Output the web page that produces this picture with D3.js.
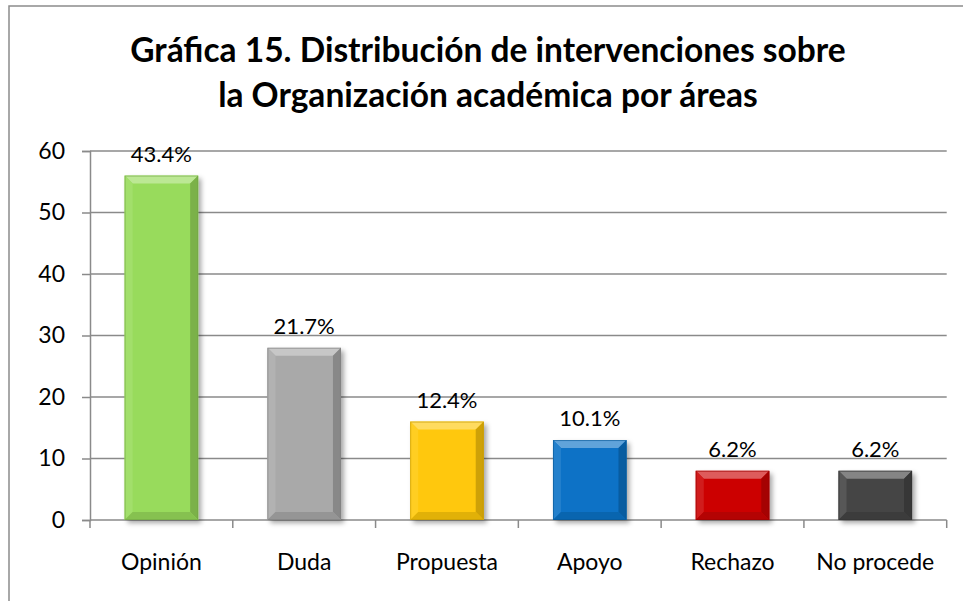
<!DOCTYPE html>
<html>
<head>
<meta charset="utf-8">
<script src="https://cdn.jsdelivr.net/npm/d3@7"></script>
<style>
  body { margin: 0; background: #fff; }
  text { font-family: Lato, "Open Sans", sans-serif; fill: #000; }
</style>
</head>
<body>
<svg width="963" height="601"></svg>
<script>
// chart data
var categories = ["Opinión", "Duda", "Propuesta", "Apoyo", "Rechazo", "No procede"];
var counts = [56, 28, 16, 13, 8, 8];
var pctLabels = ["43.4%", "21.7%", "12.4%", "10.1%", "6.2%", "6.2%"];
var barColors = ["#98DB5B", "#A9A9A9", "#FFC809", "#0A72C6", "#CC0303", "#444444"];
var yTicks = [0, 10, 20, 30, 40, 50, 60];
var titleLines = ["Gráfica 15. Distribución de intervenciones sobre", "la Organización académica por áreas"];

var svg = d3.select("svg");

// outer chart frame (runs off the right/bottom edge)
svg.append("rect")
   .attr("x", 9).attr("y", 6)
   .attr("width", 980).attr("height", 620)
   .attr("fill", "#fff")
   .attr("stroke", "#8c8c8c").attr("stroke-width", 1.5);

var plotL = 90, plotR = 946.7, plotT = 151, plotB = 520;

var x = d3.scaleBand()
    .domain(categories)
    .range([plotL, plotR])
    .paddingInner(0.485)
    .paddingOuter(0.2425);

var y = d3.scaleLinear().domain([0, 60]).range([plotB, plotT]);

var defs = svg.append("defs");
var shadow = defs.append("filter").attr("id", "shadow")
    .attr("x", "-20%").attr("y", "-10%").attr("width", "150%").attr("height", "130%");
shadow.append("feDropShadow")
    .attr("dx", 3).attr("dy", 3).attr("stdDeviation", 2.5)
    .attr("flood-color", "#000").attr("flood-opacity", 0.35);

// title
svg.selectAll(".title")
   .data(titleLines)
   .enter().append("text")
   .attr("class", "title")
   .attr("x", 488)
   .attr("y", function(d, i) { return 62 + i * 45; })
   .attr("text-anchor", "middle")
   .style("font-size", "33.5px")
   .style("font-weight", "bold")
   .text(function(d) { return d; });

// gridlines
svg.append("g")
   .selectAll("line")
   .data(yTicks.slice(1))
   .enter().append("line")
   .attr("x1", plotL).attr("x2", plotR)
   .attr("y1", function(d) { return y(d); })
   .attr("y2", function(d) { return y(d); })
   .attr("stroke", "#8a8a8a").attr("stroke-width", 1.5);

// y axis
var yAxis = svg.append("g")
   .attr("transform", "translate(" + plotL + ",0)")
   .call(d3.axisLeft(y).tickValues(yTicks).tickSize(8).tickPadding(17));
yAxis.select(".domain").attr("stroke", "#8a8a8a").attr("stroke-width", 1.5);
yAxis.selectAll(".tick line").attr("stroke", "#8a8a8a").attr("stroke-width", 1.5);
yAxis.selectAll(".tick text")
   .style("font-size", "23px")
   .style("font-family", "Lato, 'Open Sans', sans-serif")
   .attr("fill", "#000");

// x axis line and ticks at band boundaries
var bounds = d3.range(categories.length + 1).map(function(i) { return plotL + i * x.step(); });
svg.append("line")
   .attr("x1", plotL).attr("x2", plotR)
   .attr("y1", plotB).attr("y2", plotB)
   .attr("stroke", "#8a8a8a").attr("stroke-width", 1.5);
svg.append("g").selectAll("line")
   .data(bounds)
   .enter().append("line")
   .attr("x1", function(d) { return d; }).attr("x2", function(d) { return d; })
   .attr("y1", plotB).attr("y2", plotB + 8)
   .attr("stroke", "#8a8a8a").attr("stroke-width", 1.5);

svg.append("g").selectAll("text")
   .data(categories)
   .enter().append("text")
   .attr("x", function(d) { return x(d) + x.bandwidth() / 2; })
   .attr("y", 570)
   .attr("text-anchor", "middle")
   .style("font-size", "23px")
   .text(function(d) { return d; });

// bars with bevel look
var bars = svg.append("g").selectAll("g.bar")
   .data(categories)
   .enter().append("g")
   .attr("class", "bar");

var bev = 8;
bars.each(function(d, i) {
  var g = d3.select(this);
  var x0 = x(d), w = x.bandwidth(), y0 = y(counts[i]), h = plotB - y0;
  var x1 = x0 + w, y1 = plotB;
  var base = d3.color(barColors[i]);
  g.append("rect")
   .attr("x", x0).attr("y", y0).attr("width", w).attr("height", h)
   .attr("fill", base.formatHex())
   .attr("filter", "url(#shadow)");
  var b = Math.min(bev, h / 2);
  var polys = [
    { pts: [[x0, y0], [x1, y0], [x1 - b, y0 + b], [x0 + b, y0 + b]], c: d3.interpolateRgb(base, "#fff")(0.35) },
    { pts: [[x0, y0], [x0 + b, y0 + b], [x0 + b, y1 - b], [x0, y1]], c: d3.interpolateRgb(base, "#fff")(0.1) },
    { pts: [[x1, y0], [x1, y1], [x1 - b, y1 - b], [x1 - b, y0 + b]], c: base.darker(0.6).formatHex() },
    { pts: [[x0, y1], [x0 + b, y1 - b], [x1 - b, y1 - b], [x1, y1]], c: base.darker(0.35).formatHex() }
  ];
  polys.forEach(function(p) {
    g.append("polygon")
     .attr("points", p.pts.map(function(q) { return q.join(","); }).join(" "))
     .attr("fill", p.c);
  });
  g.append("rect")
   .attr("x", x0 + 0.5).attr("y", y0 + 0.5).attr("width", w - 1).attr("height", h - 1)
   .attr("fill", "none")
   .attr("stroke", base.darker(0.8).formatHex()).attr("stroke-width", 1).attr("stroke-opacity", 0.6);
});

// value labels
svg.append("g").selectAll("text")
   .data(categories)
   .enter().append("text")
   .attr("x", function(d) { return x(d) + x.bandwidth() / 2; })
   .attr("y", function(d, i) { return y(counts[i]) - 14; })
   .attr("text-anchor", "middle")
   .style("font-size", "22px")
   .text(function(d, i) { return pctLabels[i]; });
</script>
</body>
</html>
